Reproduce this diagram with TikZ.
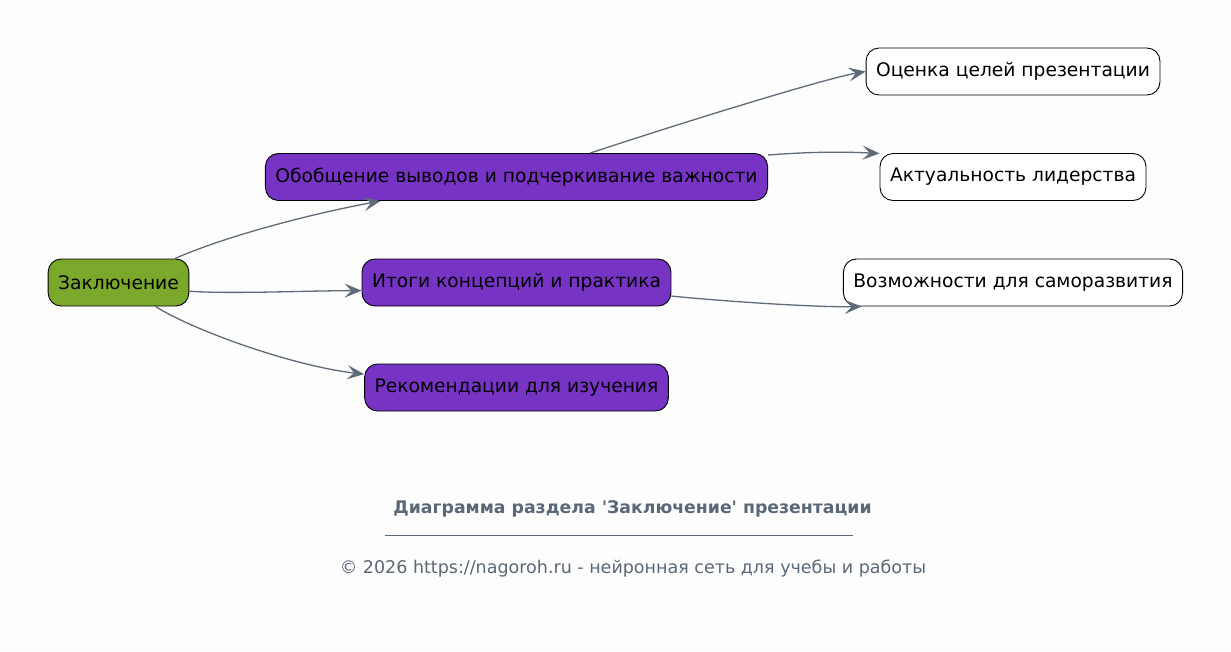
\documentclass[tikz,border=0pt]{standalone}
\usepackage{fontspec}
\setmainfont{DejaVu Sans}
\newfontfamily\plainfont{DejaVu Sans}
\usetikzlibrary{arrows.meta}
\definecolor{bgc}{HTML}{FDFDFD}
\definecolor{greenc}{HTML}{7AA82A}
\definecolor{purplec}{HTML}{7733C4}
\definecolor{edgec}{HTML}{5F6B78}
\definecolor{footc}{HTML}{5A6878}
\begin{document}
\begin{tikzpicture}[x=1pt,y=-1pt,
  box/.style={draw=black,line width=0.9pt,rounded corners=13pt,minimum height=47pt,inner xsep=10pt,
    font=\fontsize{18.67}{22}\selectfont,text=black},
  rootbox/.style={box,fill=greenc},
  midbox/.style={box,fill=purplec},
  leafbox/.style={box,fill=white},
  conn/.style={draw=edgec,line width=1.3pt,-{Stealth[length=17pt,width=14pt,inset=7pt]}}]
\path[use as bounding box,fill=bgc] (0,0) rectangle (1231,651);
\node[rootbox] (z) at (118.5,282.5) {Заключение};
\node[midbox] (o) at (516.5,177) {Обобщение выводов и подчеркивание важности};
\node[midbox] (i) at (516.5,282.5) {Итоги концепций и практика};
\node[midbox] (r) at (516.5,387.5) {Рекомендации для изучения};
\node[leafbox] (oc) at (1013,71.5) {Оценка целей презентации};
\node[leafbox] (ak) at (1013,177) {Актуальность лидерства};
\node[leafbox] (vo) at (1013,282.5) {Возможности для саморазвития};
\draw[conn] (z.23) .. controls +(45,-20) and +(-80,15) .. (o.190.7);
\draw[conn] (z.-7) .. controls +(40,3) and +(-50,0) .. (i.183);
\draw[conn] (z.-33) .. controls +(40,25) and +(-70,-8) .. (r.175);
\draw[conn] (o.18) .. controls +(100,-33) and +(-40,7) .. (oc.180.6);
\draw[conn] (o.5) .. controls +(40,-3) and +(-40,-2) .. (ak.170);
\draw[conn] (i.-5.4) .. controls +(60,6) and +(-40,1) .. (vo.189);
\node[text=footc,font=\plainfont\bfseries\fontsize{17.3}{20}\selectfont] (t) at (632.5,508.5) {Диаграмма раздела 'Заключение' презентации};
\coordinate (ul) at (385,535);
\coordinate (ur) at (853,535);
\draw[footc,line width=0.7pt] (ul) -- (ur);
\node[text=footc,font=\plainfont\fontsize{17.5}{20}\selectfont] (c) at (633,569) {© 2026 https://nagoroh.ru - нейронная сеть для учебы и работы};
\end{tikzpicture}
\end{document}
